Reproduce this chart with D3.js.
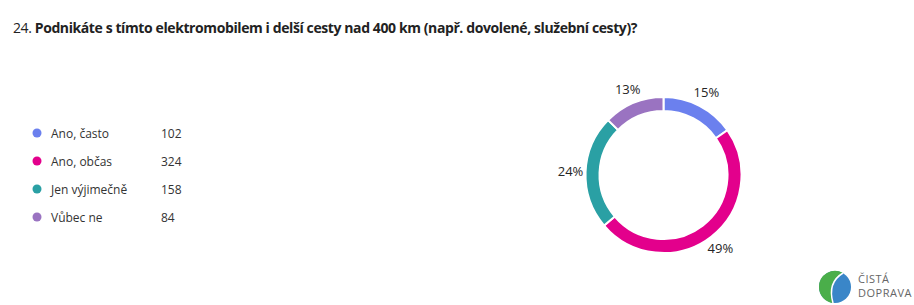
<!DOCTYPE html>
<html>
<head>
<meta charset="utf-8">
<script src="https://cdn.jsdelivr.net/npm/d3@7"></script>
<style>
  body { margin: 0; background: #fff; }
  svg { display: block; font-family: "Open Sans", "Noto Sans", sans-serif; }
</style>
</head>
<body>
<svg id="chart" width="914" height="305"></svg>
<script>
// data
var categories = ["Ano, často", "Ano, občas", "Jen výjimečně", "Vůbec ne"];
var counts = [102, 324, 158, 84];
var colours = ["#6b80ee", "#e3008c", "#2aa0a4", "#9a73c1"];
var questionNo = "24.";
var questionText = "Podnikáte s tímto elektromobilem i delší cesty nad 400 km (např. dovolené, služební cesty)?";

var svg = d3.select("#chart");

// title
var title = svg.append("text")
  .attr("x", 13).attr("y", 33)
  .attr("font-size", 14).attr("fill", "#222")
  .attr("letter-spacing", -0.4);
title.append("tspan").text(questionNo + " ");
title.append("tspan").attr("font-weight", "bold").text(questionText);

// legend
var legend = svg.append("g");
var rowY = d3.scalePoint().domain(categories).range([133, 217]);
var rows = legend.selectAll("g.row").data(categories).enter()
  .append("g").attr("class", "row")
  .attr("transform", function(d){ return "translate(0," + rowY(d) + ")"; });
rows.append("circle").attr("cx", 37).attr("cy", 0).attr("r", 4.5)
  .attr("fill", function(d, i){ return colours[i]; });
rows.append("text").attr("x", 51).attr("y", 4.5)
  .attr("font-size", 12).attr("fill", "#333")
  .text(function(d){ return d; });
rows.append("text").attr("x", 161).attr("y", 4.5)
  .attr("font-size", 12).attr("fill", "#333")
  .text(function(d, i){ return counts[i]; });

// donut
var cx = 663.5, cy = 175, outerR = 78, innerR = 64;
var total = d3.sum(counts);
var pie = d3.pie().sort(null)(counts);
var arc = d3.arc().innerRadius(innerR).outerRadius(outerR);
var labelArc = d3.arc().innerRadius(93).outerRadius(93);

var g = svg.append("g").attr("transform", "translate(" + cx + "," + cy + ")");
g.selectAll("path").data(pie).enter().append("path")
  .attr("d", arc)
  .attr("fill", function(d, i){ return colours[i]; })
  .attr("stroke", "#fff").attr("stroke-width", 2);

g.selectAll("text.pct").data(pie).enter().append("text")
  .attr("class", "pct")
  .attr("transform", function(d){ return "translate(" + labelArc.centroid(d) + ")"; })
  .attr("text-anchor", "middle").attr("dy", "0.35em")
  .attr("font-size", 13).attr("fill", "#252525")
  .text(function(d){ return Math.round(d.data / total * 100) + "%"; });

// logo
var logo = svg.append("g").attr("transform", "translate(835,287)");
logo.append("circle").attr("r", 16).attr("fill", "#3a86c8");
logo.append("path").attr("d", "M-16,0 A16,16 0 0,1 8,-14 C-4,-8 -6,2 -2,16 A16,16 0 0,1 -16,0 Z").attr("fill", "#4aae4a");
logo.append("path").attr("d", "M-2,16 C-6,2 -2,-8 8,-14").attr("fill", "none").attr("stroke", "#fff").attr("stroke-width", 1.5);
logo.append("text").attr("x", 23).attr("y", -4).attr("font-size", 11).attr("fill", "#666").attr("letter-spacing", 0.5).text("ČISTÁ");
logo.append("text").attr("x", 23).attr("y", 10).attr("font-size", 11).attr("fill", "#666").attr("letter-spacing", 0.5).text("DOPRAVA");
</script>
</body>
</html>
